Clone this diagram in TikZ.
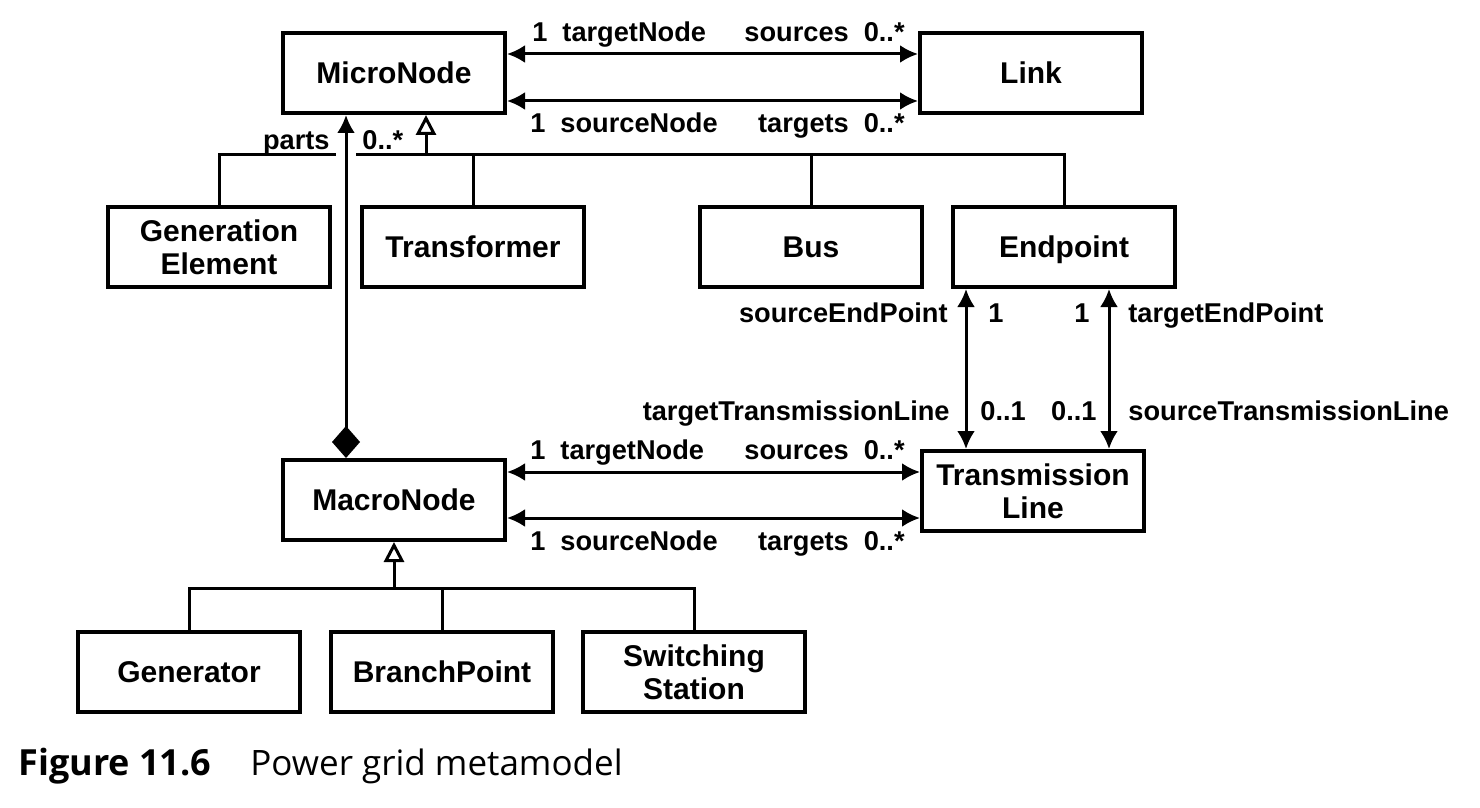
\documentclass[tikz,border=0pt]{standalone}
\usepackage{fontspec}
\setmainfont{Liberation Sans}
\newfontfamily\capfont{Open Sans}
\usetikzlibrary{arrows.meta}

\tikzset{
  cls/.style={draw, line width=2pt, minimum width=111pt, minimum height=40pt,
    align=center, inner sep=2pt, font=\fontsize{15}{16.5}\selectfont\bfseries},
  lbl/.style={inner sep=0pt, font=\fontsize{13.6}{15}\selectfont\bfseries},
  assoc/.style={line width=1.5pt, {Latex[length=9pt,width=9pt]}-{Latex[length=9pt,width=9pt]}},
  inh/.style={line width=1.5pt, -{Triangle[open,length=10pt,width=10pt]}},
  plain/.style={line width=1.5pt},
  comp/.style={line width=1.5pt, {Diamond[length=16pt,width=14pt]}-{Latex[length=9pt,width=9pt]}},
}
\newcommand{\rolegap}{\hspace{0.55em}}

\begin{document}
\begin{tikzpicture}[x=0.5pt,y=-0.5pt]
\useasboundingbox (0,0) rectangle (1480,808);

% classes
\node[cls] (micro) at (394,73) {MicroNode};
\node[cls] (link) at (1031,73) {Link};
\node[cls] (genel) at (219,247) {Generation\\Element};
\node[cls] (trafo) at (473,247) {Transformer};
\node[cls] (bus) at (811,247) {Bus};
\node[cls, text depth=0pt] (endp) at (1064,247) {Endpoint};
\node[cls] (macro) at (394,500) {MacroNode};
\node[cls] (tline) at (1033,491) {Transmission\\Line};
\node[cls] (genr) at (189,672) {Generator};
\node[cls] (branch) at (442,672) {BranchPoint};
\node[cls] (switch) at (694,672) {Switching\\Station};

% MicroNode -- Link
\draw[assoc] ([yshift=9.5pt]micro.east) -- ([yshift=9.5pt]micro.east -| link.west);
\draw[assoc] ([yshift=-14pt]micro.east) -- ([yshift=-14pt]micro.east -| link.west);
\node[lbl, anchor=base west] (l1) at (532,42) {1\rolegap targetNode};
\node[lbl, anchor=base east] (l2) at (905,42) {sources\rolegap 0..*};
\node[lbl, anchor=base west] (l3) at (530,133) {1\rolegap sourceNode};
\node[lbl, anchor=base east] (l4) at (905,133) {targets\rolegap 0..*};

% MicroNode subclasses
\coordinate (mhub) at (426,155);
\coordinate (gapL) at (336,155);
\coordinate (gapR) at (356,155);
\draw[inh] (mhub) -- ([xshift=16pt]micro.south);
\draw[plain] (genel.north) |- (gapL);
\draw[plain] (gapR) -| (endp.north);
\draw[plain] (trafo.north) -- (trafo.north |- mhub);
\draw[plain] (bus.north) -- (bus.north |- mhub);

% MacroNode parts
\draw[comp] ([xshift=-24pt]macro.north) -- ([xshift=-24pt]micro.south);
\node[lbl, anchor=base east] (parts) at (330,150) {parts};
\node[lbl, anchor=base west] (pmult) at (362,150) {0..*};

% Endpoint -- TransmissionLine
\draw[assoc] ([xshift=7.5pt]endp.south west) -- ([xshift=7.5pt]endp.south west |- tline.north);
\draw[assoc] ([xshift=-34pt]endp.south east) -- ([xshift=-34pt]endp.south east |- tline.north);
\node[lbl, anchor=base east] (e1) at (948,322) {sourceEndPoint};
\node[lbl, anchor=base west] (e2) at (988,322) {1};
\node[lbl, anchor=base east] (e3) at (1090,322) {1};
\node[lbl, anchor=base west] (e4) at (1128,322) {targetEndPoint};
\node[lbl, anchor=base east] (e5) at (950,420) {targetTransmissionLine};
\node[lbl, anchor=base west] (e6) at (980,420) {0..1};
\node[lbl, anchor=base east] (e7) at (1097,420) {0..1};
\node[lbl, anchor=base west] (e8) at (1128,420) {sourceTransmissionLine};

% MacroNode -- TransmissionLine
\draw[assoc] ([yshift=14pt]macro.east) -- ([yshift=14pt]macro.east -| tline.west);
\draw[assoc] ([yshift=-9pt]macro.east) -- ([yshift=-9pt]macro.east -| tline.west);
\node[lbl, anchor=base west] (m1) at (530,459) {1\rolegap targetNode};
\node[lbl, anchor=base east] (m2) at (905,459) {sources\rolegap 0..*};
\node[lbl, anchor=base west] (m3) at (530,550) {1\rolegap sourceNode};
\node[lbl, anchor=base east] (m4) at (905,550) {targets\rolegap 0..*};

% MacroNode subclasses
\coordinate (bhub) at (394,588);
\draw[inh] (bhub) -- (macro.south);
\draw[plain] (genr.north) |- (bhub) -| (switch.north);
\draw[plain] (branch.north) -- (branch.north |- bhub);

% caption
\node[anchor=base west, inner sep=0pt, font=\capfont\fontsize{18}{20}\selectfont] (cap) at (18,775)
  {\textbf{Figure 11.6}};
\node[anchor=base west, inner sep=0pt, font=\capfont\fontsize{17.5}{20}\selectfont] (captext) at (250,775)
  {Power grid metamodel};

\end{tikzpicture}
\end{document}
